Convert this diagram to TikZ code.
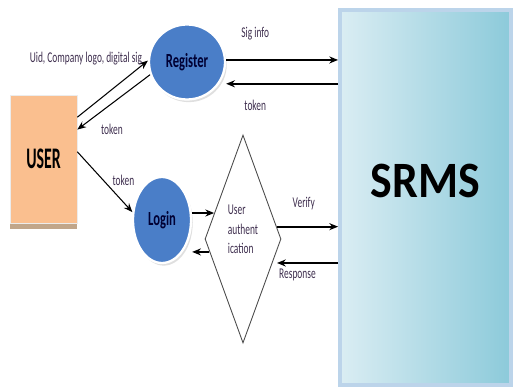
\documentclass[tikz,border=0pt]{standalone}
\usepackage{fontspec}
\setmainfont{Carlito}
\newfontfamily\condfont{Carlito}[FakeStretch=0.63]
\newfontfamily\userfont{Carlito}[FakeStretch=0.53]
\newfontfamily\srmsfont{Carlito}[FakeStretch=0.9]
\usetikzlibrary{shapes.geometric,positioning,arrows.meta,shadows}
\definecolor{procblue}{RGB}{74,126,200}
\definecolor{userpeach}{RGB}{250,191,143}
\definecolor{srmslight}{RGB}{218,237,243}
\definecolor{srmsdark}{RGB}{140,202,218}
\definecolor{srmsedge}{RGB}{188,212,234}
\definecolor{labelink}{RGB}{62,46,78}

\begin{document}
\begin{tikzpicture}[x=0.02cm,y=-0.02cm,>={Stealth[length=5pt,width=4pt]},
  every edge/.style={draw,line width=1pt},
  process/.style={ellipse,fill=procblue,draw=white,line width=1.3pt,inner sep=0pt,
    drop shadow={opacity=0.25,shadow xshift=1pt,shadow yshift=-1.5pt},
    font=\condfont\bfseries\fontsize{11.4}{12}\selectfont,text=black!80!blue},
  lbl/.style={font=\condfont\fontsize{8.5}{11}\selectfont,text=labelink,inner sep=1pt},
  slim/.style={line width=0.6pt}]
  \useasboundingbox (0,0) rectangle (513,388);
  \node[draw=white!85!gray,fill=userpeach,minimum width=1.34cm,minimum height=2.56cm,
    drop shadow={shadow xshift=0pt,shadow yshift=-3.5pt,fill=brown!60!gray,opacity=0.7},
    font=\userfont\bfseries\fontsize{17}{20}\selectfont] (user) at (43.5,159) {USER};
  \node[process,minimum width=1.52cm,minimum height=1.5cm] (reg) at (187,62) {Register};
  \node[process,minimum width=1.16cm,minimum height=1.72cm] (login) at (162,220) {Login};
  \node[diamond,draw=black!70,line width=0.5pt,shape aspect=0.4,lbl,inner sep=0pt,align=left,
    minimum width=1.52cm,minimum height=4.16cm]
    (auth) at (243,239) {User\\authent\\ication\\ \mbox{}};
  \node[draw=srmsedge,line width=2.2pt,left color=srmslight,right color=srmsdark,
    minimum width=3.42cm,minimum height=7.5cm,text height=18.7pt,text depth=19.2pt,
    font=\srmsfont\bfseries\fontsize{29}{32}\selectfont] (srms) at (425.5,197.5) {SRMS};
  % user side
  \path[->] (user.51) edge[slim] node[pos=1,anchor=east,lbl,xshift=-2pt,yshift=1pt] {Uid, Company logo, digital sig} (reg.178)
            (reg.199) edge[slim] node[pos=0.85,below right,lbl,xshift=6pt] {token} (user.41)
            (user.12) edge[slim] node[pos=0.6,above right,lbl] {token} (login.165);
  % srms side
  \path[->] (reg.3) edge node[pos=0.26,above=10pt,lbl] {Sig info} (reg.3 -| srms.west)
            (srms.west |- reg.-34) edge node[pos=0.74,below=8pt,lbl] {token} (reg.-34 -| reg.east)
            (auth.138 -| login.east) edge (auth.138)
            (auth.201) edge (auth.201 -| login.east)
            (auth.20) edge node[pos=0.44,above=8pt,lbl] {Verify} (auth.20 -| srms.west)
            (srms.west |- auth.-39) edge[shorten >=2.5pt] node[pos=0.62,below=2pt,lbl] {Response} (auth.-39);
\end{tikzpicture}
\end{document}
